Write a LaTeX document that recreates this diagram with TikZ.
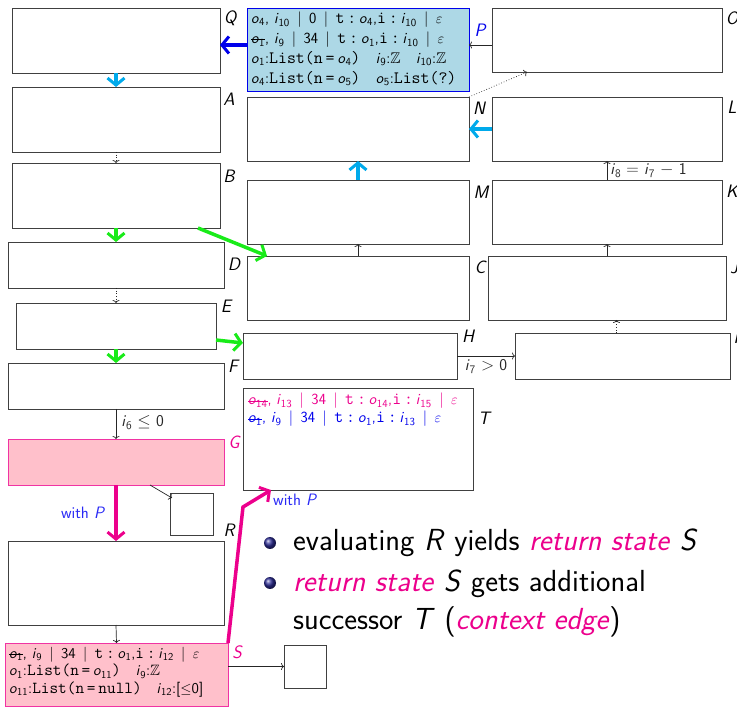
\documentclass[tikz,border=0pt]{standalone}
\usepackage{fontspec}
\usepackage{amssymb}
\usepackage{graphicx}
\usetikzlibrary{arrows.meta,calc}
\definecolor{bgreen}{RGB}{25,235,25}
\definecolor{bcyan}{RGB}{0,170,235}
\definecolor{bblue}{RGB}{0,0,235}
\definecolor{mag}{RGB}{236,0,140}
\definecolor{pinkfill}{RGB}{255,192,203}
\definecolor{pbfill}{RGB}{173,216,230}
\definecolor{wblue}{RGB}{40,40,245}
\definecolor{bulc}{RGB}{45,45,150}
\newcommand\mv[2]{\textit{#1}\textsubscript{#2}}
\newcommand\tq[1]{\scalebox{1.12}{\texttt{#1}}}
\newsavebox\stbox
\newcommand\strk[1]{\sbox\stbox{#1}\rlap{\rule[0.55ex]{\wd\stbox}{0.6pt}}\usebox\stbox}
\tikzset{
  box/.style={draw=black!75, line width=0.9pt, inner sep=0pt, outer sep=0pt},
  pinkbox/.style={box, draw=mag!80, fill=pinkfill},
  lbl/.style={font=\sffamily\itshape\fontsize{18}{20}\selectfont, inner sep=0pt},
  small/.style={font=\sffamily\fontsize{16.5}{18}\selectfont, inner sep=0pt},
  thinarr/.style={-{To[length=3pt,width=7pt]}, line width=0.7pt, black!85},
  dotarr/.style={thinarr, dotted},
  thickarr/.style={-{Straight Barb[length=7pt,width=17pt,line width=3pt]}, line width=3.5pt},
  content/.style={anchor=north west, inner sep=0pt, align=left},
}
\begin{document}
\begin{tikzpicture}[x=1pt,y=-1pt, font=\sffamily]
\useasboundingbox (0,0) rectangle (737,708);
% left column
\node[box, minimum width=208pt, minimum height=65pt] (Q) at (116,40.5) {};
\node[box, minimum width=208pt, minimum height=65pt] (A) at (116,119.5) {};
\node[box, minimum width=208pt, minimum height=65pt] (B) at (116,195.5) {};
\node[box, minimum width=216pt, minimum height=46pt] (D) at (116,265) {};
\node[box, minimum width=200pt, minimum height=46pt] (E) at (116,326) {};
\node[box, minimum width=216pt, minimum height=46pt] (F) at (116,386) {};
\node[pinkbox, minimum width=216pt, minimum height=46pt] (G) at (116,462) {};
\node[box, minimum width=43pt, minimum height=42pt] (R) at (191.5,514) {};
\node[box, minimum width=216pt, minimum height=84pt] (U) at (116,583) {};
\node[pinkbox, minimum width=223pt, minimum height=63pt] (S) at (116.5,674.5) {};
\node[box, minimum width=42pt, minimum height=43pt] (X) at (305,666.5) {};
% middle column
\node[box, draw=bblue, fill=pbfill, minimum width=222pt, minimum height=83pt] (P) at (358,49.5) {};
\node[box, minimum width=222pt, minimum height=64pt] (N) at (358,129) {};
\node[box, minimum width=222pt, minimum height=64pt] (M) at (358,212) {};
\node[box, minimum width=222pt, minimum height=64pt] (C) at (358,288) {};
\node[box, minimum width=214pt, minimum height=46pt] (H) at (350,356) {};
\node[box, minimum width=230pt, minimum height=102pt] (T) at (358,439) {};
% right column
\node[box, minimum width=230pt, minimum height=64pt] (O) at (607,40) {};
\node[box, minimum width=230pt, minimum height=64pt] (L) at (607,129) {};
\node[box, minimum width=230pt, minimum height=64pt] (K) at (607,212) {};
\node[box, minimum width=238pt, minimum height=64pt] (J) at (607,288) {};
\node[box, minimum width=215pt, minimum height=46pt] (I) at (622.5,356) {};
% labels
\node[lbl] (lQ) at (230,18) {Q};
\node[lbl] (lA) at (229,99) {A};
\node[lbl] (lB) at (229,176) {B};
\node[lbl] (lD) at (234,264) {D};
\node[lbl] (lE) at (226,306) {E};
\node[lbl] (lF) at (233,366) {F};
\node[lbl, text=mag] (lG) at (234,442) {G};
\node[lbl] (lR) at (229,530) {R};
\node[lbl, text=mag] (lS) at (237,652) {S};
\node[lbl, text=bblue] (lP) at (480,30) {P};
\node[lbl] (lN) at (479,108) {N};
\node[lbl] (lM) at (481,192) {M};
\node[lbl] (lC) at (480,267) {C};
\node[lbl] (lH) at (468,336) {H};
\node[lbl] (lT) at (484,418) {T};
\node[lbl] (lO) at (732,18) {O};
\node[lbl] (lL) at (732,107) {L};
\node[lbl] (lK) at (732,191) {K};
\node[lbl] (lJ) at (734,267) {J};
\node[lbl] (lI) at (736,337) {I};
% contents
\node[content, font=\sffamily\fontsize{15.5}{19.8}\selectfont] (Ptxt) at (251,12) {%
\mv{o}{4}, \mv{i}{10} \,|\, 0 \,|\, \tq{t\,:\,}\mv{o}{4},\tq{i\,:\,}\mv{i}{10} \,|\, $\varepsilon$\\
\strk{\mv{o}{1}}, \mv{i}{9} \,|\, 34 \,|\, \tq{t\,:\,}\mv{o}{1},\tq{i\,:\,}\mv{i}{10} \,|\, $\varepsilon$\\
\mv{o}{1}:\tq{List(n\,=\,}\mv{o}{4}\tq{)}\quad \mv{i}{9}:$\mathbb{Z}$\quad \mv{i}{10}:$\mathbb{Z}$\\
\mv{o}{4}:\tq{List(n\,=\,}\mv{o}{5}\tq{)}\quad \mv{o}{5}:\tq{List(?)}};
\node[content, font=\sffamily\fontsize{15.5}{18}\selectfont] (Ttxt) at (248,393) {%
\textcolor{mag}{\strk{\mv{o}{14}}, \mv{i}{13} \,|\, 34 \,|\, \tq{t\,:\,}\mv{o}{14},\tq{i\,:\,}\mv{i}{15} \,|\, $\varepsilon$}\\
\textcolor{bblue}{\strk{\mv{o}{1}}, \mv{i}{9} \,|\, 34 \,|\, \tq{t\,:\,}\mv{o}{1},\tq{i\,:\,}\mv{i}{13} \,|\, $\varepsilon$}};
\node[content, font=\sffamily\fontsize{15}{17.5}\selectfont] (Stxt) at (9,647) {%
\strk{\mv{o}{1}}, \mv{i}{9} \,|\, 34 \,|\, \tq{t\,:\,}\mv{o}{1},\tq{i\,:\,}\mv{i}{12} \,|\, $\varepsilon$\\
\mv{o}{1}:\tq{List(n\,=\,}\mv{o}{11}\tq{)}\quad \mv{i}{9}:$\mathbb{Z}$\\
\mv{o}{11}:\tq{List(n\,=\,null)}\quad \mv{i}{12}:[$\leq$0]};
% connectors
\draw[thickarr, bblue] ([yshift=4.5pt]P.west) -- ([yshift=4.5pt]P.west -| Q.east);
\draw[thinarr] ([yshift=-5pt]O.west) -- ([yshift=-5pt]O.west -| P.east);
\draw[thickarr, bcyan] (Q.south) -- (A.north);
\draw[dotarr] (A.south) -- (B.north);
\draw[thickarr, bgreen] (B.south) -- (D.north);
\draw[thickarr, bgreen] ([xshift=-22pt]B.south east) -- ([xshift=20pt]C.north west);
\draw[dotarr] (D.south) -- (E.north);
\draw[thickarr, bgreen] (E.south) -- (F.north);
\draw[thickarr, bgreen] ([yshift=-14pt]E.east) -- ([yshift=13pt]H.west);
\draw[thinarr] (F.south) -- (G.north) node[small, pos=0.45, right=5pt] (l6) {\mv{i}{6} $\leq$ 0};
\draw[thickarr, mag] (G.south) -- (U.north) node[small, pos=0.5, left=9pt, text=wblue] (wp1) {with \textit{P}};
\draw[thinarr] ([xshift=34pt]G.south) -- ([xshift=2pt,yshift=-5pt]R.north west);
\draw[thinarr] (U.south) -- (S.north);
\draw[thinarr] (S.east |- X.west) -- (X.west);
\coordinate (bend) at (243,507);
\draw[thickarr, mag] (S.north east) -- (bend) -- ([xshift=28pt]T.south west);
\node[small, text=wblue, anchor=west] (wp2) at (273,500) {with \textit{P}};
\draw[thinarr] (C.north) -- (M.south);
\draw[thickarr, bcyan] (M.north) -- (N.south);
\draw[thickarr, bcyan] (L.west) -- (N.east);
\draw[thinarr] (K.north) -- (L.south) node[small, pos=0.5, right=3pt] (l8) {\mv{i}{8} $=$ \mv{i}{7} $-$ 1};
\draw[thinarr] (J.north) -- (K.south);
\draw[dotarr] ([xshift=-6pt]I.north) -- ([xshift=-6pt]I.north |- J.south);
\draw[thinarr] (H.east) -- (I.west) node[small, pos=0.5, below=3pt] (l7) {\mv{i}{7} $>$ 0};
\draw[dotarr] (N.north east) -- ([xshift=35pt]O.south west);
% bullets
\node[circle, minimum size=12pt, inner sep=0pt, ball color=bulc] (bu1) at (270,543) {};
\node[circle, minimum size=12pt, inner sep=0pt, ball color=bulc] (bu2) at (270,583) {};
\node[anchor=base west, inner sep=0pt, font=\sffamily\fontsize{30.5}{36}\selectfont] (t1) at (293,551) {evaluating \textit{R} yields \textcolor{mag}{\textit{return state}} \textit{S}};
\node[anchor=base west, inner sep=0pt, font=\sffamily\fontsize{30.5}{36}\selectfont] (t2) at (293,592) {\textcolor{mag}{\textit{return state}} \textit{S} gets additional};
\node[anchor=base west, inner sep=0pt, font=\sffamily\fontsize{30.5}{36}\selectfont] (t3) at (293,630) {successor \textit{T} (\textcolor{mag}{\textit{context edge}})};
\end{tikzpicture}
\end{document}
